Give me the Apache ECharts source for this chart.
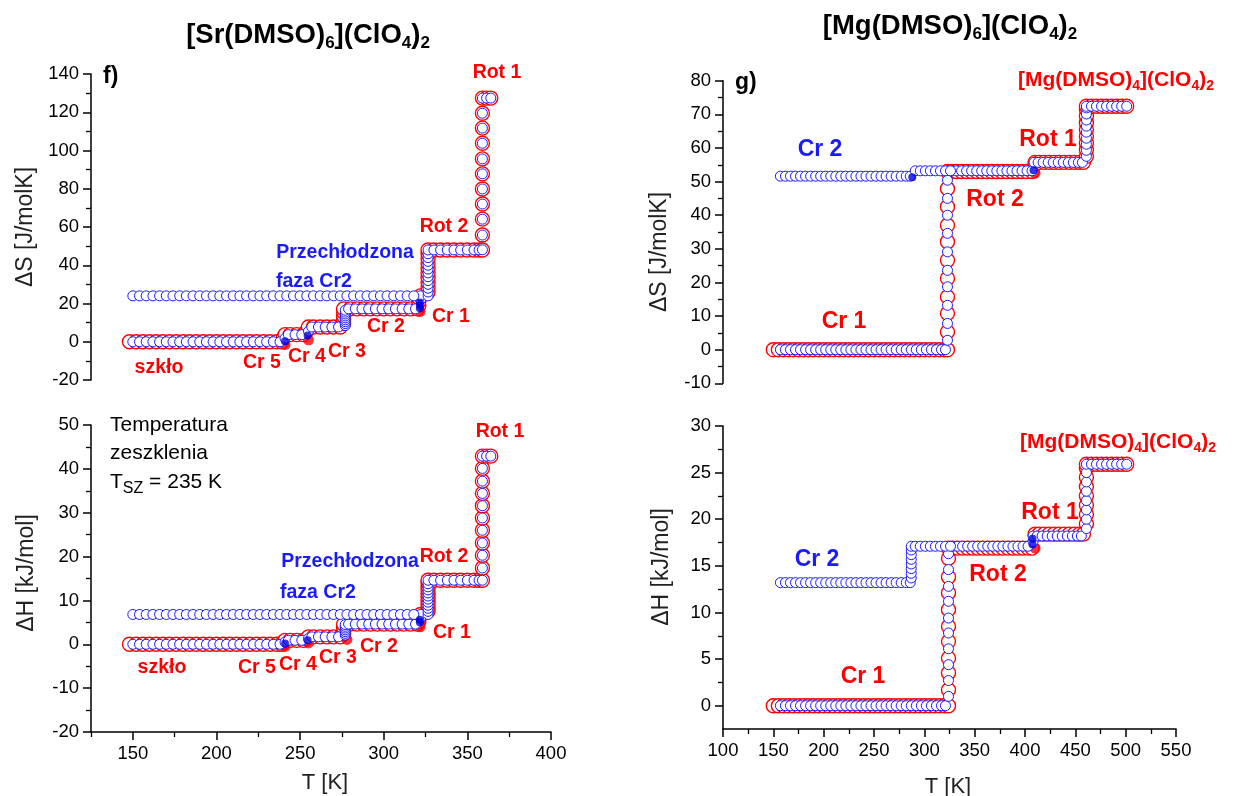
<!DOCTYPE html>
<html><head><meta charset="utf-8">
<script src="https://cdn.jsdelivr.net/npm/echarts@6/dist/echarts.min.js"></script>
<style>html,body{margin:0;padding:0;background:#fff;}#c{width:1234px;height:796px;}</style>
</head><body><div id="c"></div>
<script>
// ---------- tick values ----------
const xTicksLeft = [150,200,250,300,350,400];
const xMinorLeft = [125,175,225,275,325,375];
const yTicksBR = [0,5,10,15,20,25,30];
const yMinorBR = [2.5,7.5,12.5,17.5,22.5,27.5];

// ---------- panel f, dS [J/molK] ----------
const fS_red = [
[148,0],[152,0],[156,0],[160,0],[164,0],[168,0],[172,0],[176,0],[180,0],[184,0],[188,0],[192,0],[196,0],[200,0],[204,0],[208,0],[212,0],[216,0],[220,0],[224,0],[228,0],[232,0],[236,0],
[239,0],[240,2],[241,3.7],[244,3.7],[248,3.7],[252,3.7],
[254,5.7],[255,7.7],[258,7.7],[262,7.7],[266,7.7],[270,7.7],[274,7.7],
[276,9.5],[276,11.5],[276,13.5],[276,15.5],[276,17.2],
[280,17.2],[284,17.2],[288,17.2],[292,17.2],[296,17.2],[300,17.2],[304,17.2],[308,17.2],[312,17.2],[316,17.2],[320,17.2],
[321,19],[321,21],[321,23],[322,24],
[326.5,26],[326.5,28.5],[326.5,31],[326.5,33.5],[326.5,36],[326.5,38.5],[326.5,41],[326.5,43.5],[326.5,46],[326.5,48],
[330,48],[334,48],[338,48],[342,48],[346,48],[350,48],[354,48],[357,48],
[359,48],[359,55.8],[359,64.1],[359,72],[359,79.9],[359,87.8],[359,95.6],[359,103.8],[359,111.7],[359,119.5],[359,127.4],
[361.5,127.4],[364,127.4]];
const fS_redFilled = [[241,-1.5],[255,1.0],[321.7,15.8]];
const fS_blue = [
[150,0],[154,0],[158,0],[162,0],[166,0],[170,0],[174,0],[178,0],[182,0],[186,0],[190,0],[194,0],[198,0],[202,0],[206,0],[210,0],[214,0],[218,0],[222,0],[226,0],[230,0],[234,0],[238,0],
[241,1.8],[243,3.7],[247,3.7],[251,3.7],
[255,5.5],[257,7.7],[261,7.7],[265,7.7],[269,7.7],[273,7.7],
[277,8.5],[277,9.5],[277,10.5],[277,11.5],[277,12.5],[277,13.5],[277,14.5],[277,15.5],[277,16.5],
[279,17.2],[283,17.2],[287,17.2],[291,17.2],[295,17.2],[299,17.2],[303,17.2],[307,17.2],[311,17.2],[315,17.2],[319,17.2],
[322,22],[322,24],
[326.5,24],[326.5,26],[326.5,28],[326.5,30],[326.5,32],[326.5,34],[326.5,36],[326.5,38],[326.5,40],[326.5,42],[326.5,44],[326.5,46],[326.5,48],
[330,48],[334,48],[338,48],[342,48],[346,48],[350,48],[354,48],[357,48],
[359,48.1],[359,55.8],[359,64.1],[359,72],[359,79.9],[359,87.8],[359,95.6],[359,103.8],[359,111.7],[359,119.5],[359,127.4],
[361.5,127.4],[364,127.4]];
const fS_blueSC = [
[150,24],[154,24],[158,24],[162,24],[166,24],[170,24],[174,24],[178,24],[182,24],[186,24],[190,24],[194,24],[198,24],[202,24],[206,24],[210,24],[214,24],[218,24],[222,24],[226,24],[230,24],[234,24],[238,24],[242,24],[246,24],[250,24],[254,24],[258,24],[262,24],[266,24],[270,24],[274,24],[278,24],[282,24],[286,24],[290,24],[294,24],[298,24],[302,24],[306,24],[310,24],[314,24],[318,24]];
const fS_blueFilled = [[241,0.3],[254.5,3.3],[321.6,17.5],[321.6,19],[321.6,20.5]];

// ---------- panel f, dH [kJ/mol] ----------
const fH_red = [
[148,0],[152,0],[156,0],[160,0],[164,0],[168,0],[172,0],[176,0],[180,0],[184,0],[188,0],[192,0],[196,0],[200,0],[204,0],[208,0],[212,0],[216,0],[220,0],[224,0],[228,0],[232,0],[236,0],
[239,0],[240,0.5],[241,0.9],[244,0.9],[248,0.9],[252,0.9],
[254,1.3],[255,1.7],[258,1.7],[262,1.7],[266,1.7],[270,1.7],[274,1.7],
[276,2.4],[276,3.1],[276,3.8],[276,4.6],
[280,4.6],[284,4.6],[288,4.6],[292,4.6],[296,4.6],[300,4.6],[304,4.6],[308,4.6],[312,4.6],[316,4.6],[320,4.6],
[321,5.2],[321,5.8],[321,6.4],[322,6.8],
[326.5,7.6],[326.5,8.4],[326.5,9.2],[326.5,10],[326.5,10.8],[326.5,11.6],[326.5,12.4],[326.5,13.2],[326.5,14],[326.5,14.6],
[330,14.6],[334,14.6],[338,14.6],[342,14.6],[346,14.6],[350,14.6],[354,14.6],[357,14.6],
[359,14.6],[359,17.4],[359,20.3],[359,23.1],[359,26],[359,28.8],[359,31.6],[359,34.4],[359,37.2],[359,40.1],[359,42.9],
[361.5,42.9],[364,42.9]];
const fH_redFilled = [[241,-0.5],[255,0.3],[278,1.1],[321.7,4.0]];
const fH_blue = [
[150,0],[154,0],[158,0],[162,0],[166,0],[170,0],[174,0],[178,0],[182,0],[186,0],[190,0],[194,0],[198,0],[202,0],[206,0],[210,0],[214,0],[218,0],[222,0],[226,0],[230,0],[234,0],[238,0],
[241,0.5],[243,0.9],[247,0.9],[251,0.9],
[255,1.3],[257,1.7],[261,1.7],[265,1.7],[269,1.7],[273,1.7],
[277,2.1],[277,2.5],[277,2.9],[277,3.3],[277,3.7],[277,4.1],[277,4.5],
[279,4.6],[283,4.6],[287,4.6],[291,4.6],[295,4.6],[299,4.6],[303,4.6],[307,4.6],[311,4.6],[315,4.6],[319,4.6],
[322,6.0],[322,6.8],
[326.5,6.8],[326.5,7.5],[326.5,8.2],[326.5,8.9],[326.5,9.6],[326.5,10.3],[326.5,11],[326.5,11.7],[326.5,12.4],[326.5,13.1],[326.5,13.8],[326.5,14.6],
[330,14.6],[334,14.6],[338,14.6],[342,14.6],[346,14.6],[350,14.6],[354,14.6],[357,14.6],
[359,14.6],[359,17.4],[359,20.3],[359,23.1],[359,26],[359,28.8],[359,31.6],[359,34.4],[359,37.2],[359,40.1],[359,42.9],
[361.5,42.9],[364,42.9]];
const fH_blueSC = [
[150,6.8],[154,6.8],[158,6.8],[162,6.8],[166,6.8],[170,6.8],[174,6.8],[178,6.8],[182,6.8],[186,6.8],[190,6.8],[194,6.8],[198,6.8],[202,6.8],[206,6.8],[210,6.8],[214,6.8],[218,6.8],[222,6.8],[226,6.8],[230,6.8],[234,6.8],[238,6.8],[242,6.8],[246,6.8],[250,6.8],[254,6.8],[258,6.8],[262,6.8],[266,6.8],[270,6.8],[274,6.8],[278,6.8],[282,6.8],[286,6.8],[290,6.8],[294,6.8],[298,6.8],[302,6.8],[306,6.8],[310,6.8],[314,6.8],[318,6.8]];
const fH_blueFilled = [[241,0.2],[254.5,0.9],[321.6,5.0],[321.6,5.6]];

// ---------- panel g, dS [J/molK] ----------
const gS_red = [
[150,0],[155,0],[160,0],[165,0],[170,0],[175,0],[180,0],[185,0],[190,0],[195,0],[200,0],[205,0],[210,0],[215,0],[220,0],[225,0],[230,0],[235,0],[240,0],[245,0],[250,0],[255,0],[260,0],[265,0],[270,0],[275,0],[280,0],[285,0],[290,0],[295,0],[300,0],[305,0],[310,0],[315,0],[320,0],
[323,0],[323,5.3],[323,10.8],[323,15.7],[323,21.2],[323,26.6],[323,32.1],[323,37],[323,42.5],[323,47.9],[323,53],
[327,53],[332,53],[337,53],[342,53],[347,53],[352,53],[357,53],[362,53],[367,53],[372,53],[377,53],[382,53],[387,53],[392,53],[397,53],[402,53],[407,53],
[410,55.7],[414,55.7],[419,55.7],[424,55.7],[429,55.7],[434,55.7],[439,55.7],[444,55.7],[449,55.7],[454,55.7],[458,55.7],
[461,57.5],[461,59.5],[461,61.5],[461,63.5],[461,65.5],[461,67.5],[461,69.5],[461,71.5],[461,72.4],
[466,72.4],[471,72.4],[476,72.4],[481,72.4],[486,72.4],[491,72.4],[496,72.4],[501,72.4]];
const gS_redFilled = [[410,52.5]];
const gS_blue = [
[157,0],[162,0],[167,0],[172,0],[177,0],[182,0],[187,0],[192,0],[197,0],[202,0],[207,0],[212,0],[217,0],[222,0],[227,0],[232,0],[237,0],[242,0],[247,0],[252,0],[257,0],[262,0],[267,0],[272,0],[277,0],[282,0],[287,0],[292,0],[297,0],[302,0],[307,0],[312,0],[317,0],[321,0],
[323,2.8],[323,7.8],[323,13.2],[323,18.7],[323,23.6],[323,29.1],[323,34.6],[323,40],[323,45],[323,50.4],
[327,53.2],[332,53.2],[337,53.2],[342,53.2],[347,53.2],[352,53.2],[357,53.2],[362,53.2],[367,53.2],[372,53.2],[377,53.2],[382,53.2],[387,53.2],[392,53.2],[397,53.2],[402,53.2],[407,53.2],
[409,55.7],[413,55.7],[418,55.7],[423,55.7],[428,55.7],[433,55.7],[438,55.7],[443,55.7],[448,55.7],[453,55.7],[457,55.7],
[461,57.5],[461,59.3],[461,61.1],[461,62.9],[461,64.7],[461,66.5],[461,68.3],[461,70.1],[461,71.9],
[461,72.4],[466,72.4],[471,72.4],[476,72.4],[481,72.4],[486,72.4],[491,72.4],[496,72.4],[501,72.4]];
const gS_blueCr2 = [
[157,51.6],[162,51.6],[167,51.6],[172,51.6],[177,51.6],[182,51.6],[187,51.6],[192,51.6],[197,51.6],[202,51.6],[207,51.6],[212,51.6],[217,51.6],[222,51.6],[227,51.6],[232,51.6],[237,51.6],[242,51.6],[247,51.6],[252,51.6],[257,51.6],[262,51.6],[267,51.6],[272,51.6],[277,51.6],[282,51.6],[286,51.6],
[291,53.2],[296,53.2],[301,53.2],[306,53.2],[311,53.2],[316,53.2],[321,53.2],[326,53.2]];
const gS_blueFilled = [[288,51.3],[408.5,53.4]];

// ---------- panel g, dH [kJ/mol] ----------
const gH_red = [
[150,0],[155,0],[160,0],[165,0],[170,0],[175,0],[180,0],[185,0],[190,0],[195,0],[200,0],[205,0],[210,0],[215,0],[220,0],[225,0],[230,0],[235,0],[240,0],[245,0],[250,0],[255,0],[260,0],[265,0],[270,0],[275,0],[280,0],[285,0],[290,0],[295,0],[300,0],[305,0],[310,0],[315,0],[320,0],
[324,0],[324,1.7],[324,3.5],[324,5.1],[324,6.9],[324,8.5],[324,10.3],[324,12.1],[324,13.8],[324,15.8],[324,16.9],
[328,16.9],[333,16.9],[338,16.9],[343,16.9],[348,16.9],[353,16.9],[358,16.9],[363,16.9],[368,16.9],[373,16.9],[378,16.9],[383,16.9],[388,16.9],[393,16.9],[398,16.9],[403,16.9],[407,16.9],
[410,18.4],[414,18.4],[419,18.4],[424,18.4],[429,18.4],[434,18.4],[439,18.4],[444,18.4],[449,18.4],[454,18.4],[458,18.4],
[461,19.5],[461,20.5],[461,21.5],[461,22.5],[461,23.5],[461,24.5],[461,25.5],[461,25.9],
[466,25.9],[471,25.9],[476,25.9],[481,25.9],[486,25.9],[491,25.9],[496,25.9],[501,25.9]];
const gH_redFilled = [[410,16.9]];
const gH_blue = [
[157,0],[162,0],[167,0],[172,0],[177,0],[182,0],[187,0],[192,0],[197,0],[202,0],[207,0],[212,0],[217,0],[222,0],[227,0],[232,0],[237,0],[242,0],[247,0],[252,0],[257,0],[262,0],[267,0],[272,0],[277,0],[282,0],[287,0],[292,0],[297,0],[302,0],[307,0],[312,0],[317,0],[321,0],
[324,1.0],[324,2.7],[324,4.4],[324,6.1],[324,7.8],[324,9.4],[324,11.2],[324,12.8],[324,14.6],[324,16.3],
[328,17.1],[333,17.1],[338,17.1],[343,17.1],[348,17.1],[353,17.1],[358,17.1],[363,17.1],[368,17.1],[373,17.1],[378,17.1],[383,17.1],[388,17.1],[393,17.1],[398,17.1],[403,17.1],
[408,17.6],[408,18.2],[412,18.2],[417,18.2],[422,18.2],[427,18.2],[432,18.2],[437,18.2],[442,18.2],[447,18.2],[452,18.2],[456,18.2],
[461,19],[461,20],[461,21],[461,22],[461,23],[461,24],[461,25],
[461,25.9],[466,25.9],[471,25.9],[476,25.9],[481,25.9],[486,25.9],[491,25.9],[496,25.9],[501,25.9]];
const gH_blueCr2 = [
[157,13.2],[162,13.2],[167,13.2],[172,13.2],[177,13.2],[182,13.2],[187,13.2],[192,13.2],[197,13.2],[202,13.2],[207,13.2],[212,13.2],[217,13.2],[222,13.2],[227,13.2],[232,13.2],[237,13.2],[242,13.2],[247,13.2],[252,13.2],[257,13.2],[262,13.2],[267,13.2],[272,13.2],[277,13.2],[282,13.2],[286,13.2],
[287,13.7],[287,14.2],[287,14.7],[287,15.2],[287,15.7],[287,16.2],[287,16.7],[287,17.1],
[291,17.1],[296,17.1],[301,17.1],[306,17.1],[311,17.1],[316,17.1],[321,17.1],[326,17.1]];
const gH_blueFilled = [[407.5,17.3],[407.5,17.9]];

// ---------- styling ----------
const FONT = 'Liberation Sans';
const RED = '#ff0000', BLUE = '#1a1aff';

function openSeries(data, idx, color, size, bw) {
  return {type:'scatter', xAxisIndex:idx, yAxisIndex:idx, data:data, symbol:'circle', symbolSize:size,
    itemStyle:{color:'#ffffff', borderColor:color, borderWidth:bw, opacity:1}, silent:true, animation:false, z:2};
}
function filledSeries(data, idx, color, size) {
  return {type:'scatter', xAxisIndex:idx, yAxisIndex:idx, data:data, symbol:'circle', symbolSize:size,
    itemStyle:{color:color, borderWidth:0}, silent:true, animation:false, z:2};
}
function panel(idx, red, redF, blue, blue2, blueF) {
  return [openSeries(red, idx, RED, 14, 1.4), filledSeries(redF, idx, RED, 11),
          openSeries(blue, idx, BLUE, 10, 1), openSeries(blue2, idx, BLUE, 10, 1),
          filledSeries(blueF, idx, '#0000e0', 8)];
}

const axLine = {show:true, onZero:false, lineStyle:{color:'#000', width:1.5}};
const axLabel = {show:true, color:'#000', fontSize:18.5, fontFamily:FONT, margin:12};
function valAxis(extra) {
  return Object.assign({type:'value', axisLine:axLine,
    axisTick:{show:true, inside:false, length:8, lineStyle:{color:'#000', width:1.5}},
    minorTick:{show:true, splitNumber:2, length:5, lineStyle:{color:'#000', width:1.3}},
    axisLabel:axLabel, splitLine:{show:false}, minorSplitLine:{show:false}}, extra);
}

const xAxes = [
  {type:'value', gridIndex:0, min:125, max:400, show:false},
  valAxis({gridIndex:1, min:125, max:400, position:'bottom',
    axisTick:{show:true, length:8, customValues:xTicksLeft, lineStyle:{color:'#000', width:1.5}},
    axisLabel:Object.assign({}, axLabel, {customValues:xTicksLeft}), minorTick:{show:false}}),
  {type:'value', gridIndex:2, min:100, max:550, show:false},
  valAxis({gridIndex:3, min:100, max:550, interval:50, position:'bottom'}),
  {type:'value', gridIndex:1, min:125, max:400, position:'bottom', axisLine:{show:false, onZero:false},
    axisLabel:{show:false}, splitLine:{show:false},
    axisTick:{show:true, length:5, customValues:xMinorLeft, lineStyle:{color:'#000', width:1.3}}}
];
const yAxes = [
  valAxis({gridIndex:0, min:-20, max:140, interval:20, position:'left'}),
  valAxis({gridIndex:1, min:-20, max:50, interval:10, position:'left'}),
  valAxis({gridIndex:2, min:-10, max:80, interval:10, position:'left'}),
  valAxis({gridIndex:3, min:-2.5, max:30, position:'left',
    axisTick:{show:true, length:8, customValues:yTicksBR, lineStyle:{color:'#000', width:1.5}},
    axisLabel:Object.assign({}, axLabel, {customValues:yTicksBR}), minorTick:{show:false}}),
  {type:'value', gridIndex:3, min:-2.5, max:30, position:'left', axisLine:{show:false, onZero:false},
    axisLabel:{show:false}, splitLine:{show:false},
    axisTick:{show:true, length:5, customValues:yMinorBR, lineStyle:{color:'#000', width:1.3}}}
];

function T(x, y, text, color, size, bold, align, rot) {
  const o = {type:'text', x:x, y:y, z:10, silent:true,
    style:{text:text, fill:color, fontSize:size, fontWeight:bold?'bold':'normal', fontFamily:FONT,
      align:align||'center', textAlign:align||'center', verticalAlign:'middle', textVerticalAlign:'middle'}};
  if (rot) o.rotation = rot;
  return o;
}
function R(x, y, text, color, size, subSize, bold, align, lh, pad) {
  const w = bold ? 'bold' : 'normal';
  return {type:'text', x:x, y:y, z:10, silent:true,
    style:{text:text, fill:color, fontFamily:FONT, fontSize:size, fontWeight:w,
      align:align, textAlign:align, verticalAlign:'middle', textVerticalAlign:'middle',
      rich:{
        m:{fontSize:size, fontWeight:w, fontFamily:FONT, fill:color, color:color, lineHeight:lh},
        s:{fontSize:subSize, fontWeight:w, fontFamily:FONT, fill:color, color:color, lineHeight:lh, padding:[pad,0,0,0]}
      }}};
}

const graphics = [
  R(308, 35, '{m|[Sr(DMSO)}{s|6}{m|](ClO}{s|4}{m|)}{s|2}', '#000', 27.5, 17, true, 'center', 34, 16),
  R(950, 26, '{m|[Mg(DMSO)}{s|6}{m|](ClO}{s|4}{m|)}{s|2}', '#000', 27.5, 17, true, 'center', 34, 16),
  // panel f top
  T(103, 77, 'f)', '#000', 23, true, 'left'),
  T(497, 73, 'Rot 1', RED, 19.5, true),
  T(444, 227, 'Rot 2', RED, 19.5, true),
  T(345, 253, 'Przechłodzona', BLUE, 19.5, true),
  T(276, 282, 'faza Cr2', BLUE, 19.5, true, 'left'),
  T(451, 317, 'Cr 1', RED, 19.5, true),
  T(386, 327, 'Cr 2', RED, 19.5, true),
  T(347, 352, 'Cr 3', RED, 19.5, true),
  T(307, 357, 'Cr 4', RED, 19.5, true),
  T(262, 363, 'Cr 5', RED, 19.5, true),
  T(159, 368, 'szkło', RED, 19.5, true),
  // panel f bottom
  T(110, 425, 'Temperatura', '#000', 21, false, 'left'),
  T(110, 453, 'zeszklenia', '#000', 21, false, 'left'),
  R(110, 482, '{m|T}{s|SZ}{m| = 235 K}', '#000', 21, 16, false, 'left', 28, 13),
  T(500, 432, 'Rot 1', RED, 19.5, true),
  T(444, 557, 'Rot 2', RED, 19.5, true),
  T(350, 562, 'Przechłodzona', BLUE, 19.5, true),
  T(280, 593, 'faza Cr2', BLUE, 19.5, true, 'left'),
  T(452, 633, 'Cr 1', RED, 19.5, true),
  T(379, 647, 'Cr 2', RED, 19.5, true),
  T(338, 658, 'Cr 3', RED, 19.5, true),
  T(298, 665, 'Cr 4', RED, 19.5, true),
  T(257, 668, 'Cr 5', RED, 19.5, true),
  T(162, 668, 'szkło', RED, 19.5, true),
  // panel g top
  T(735, 83, 'g)', '#000', 23, true, 'left'),
  T(820, 150, 'Cr 2', BLUE, 23, true),
  T(844, 322, 'Cr 1', RED, 23, true),
  T(995, 200, 'Rot 2', RED, 23, true),
  T(1048, 140, 'Rot 1', RED, 23, true),
  R(1018, 80, '{m|[Mg(DMSO)}{s|4}{m|](ClO}{s|4}{m|)}{s|2}', RED, 21, 14, true, 'left', 28, 13),
  // panel g bottom
  T(817, 560, 'Cr 2', BLUE, 23, true),
  T(863, 677, 'Cr 1', RED, 23, true),
  T(998, 575, 'Rot 2', RED, 23, true),
  T(1050, 513, 'Rot 1', RED, 23, true),
  R(1020, 442, '{m|[Mg(DMSO)}{s|4}{m|](ClO}{s|4}{m|)}{s|2}', RED, 21, 14, true, 'left', 28, 13),
  // axis names
  T(26, 227, 'ΔS [J/molK]', '#222', 23, false, 'center', Math.PI/2),
  T(27, 573, 'ΔH [kJ/mol]', '#222', 23, false, 'center', Math.PI/2),
  T(660, 252, 'ΔS [J/molK]', '#222', 23, false, 'center', Math.PI/2),
  T(662, 567, 'ΔH [kJ/mol]', '#222', 23, false, 'center', Math.PI/2),
  T(325, 783, 'T [K]', '#222', 22, false),
  T(948, 787, 'T [K]', '#222', 22, false)
];

const chart = echarts.init(document.getElementById('c'), null, {renderer:'canvas'});
chart.setOption({
  animation:false,
  backgroundColor:'#ffffff',
  grid:[
    {left:91, top:74, width:460, height:306, outerBoundsMode:'none', containLabel:false},
    {left:91, top:425, width:460, height:307, outerBoundsMode:'none', containLabel:false},
    {left:723, top:80.7, width:453, height:302.6, outerBoundsMode:'none', containLabel:false},
    {left:723, top:426, width:453, height:303, outerBoundsMode:'none', containLabel:false}
  ],
  xAxis:xAxes,
  yAxis:yAxes,
  series:[].concat(
    panel(0, fS_red, fS_redFilled, fS_blue, fS_blueSC, fS_blueFilled),
    panel(1, fH_red, fH_redFilled, fH_blue, fH_blueSC, fH_blueFilled),
    panel(2, gS_red, gS_redFilled, gS_blue, gS_blueCr2, gS_blueFilled),
    panel(3, gH_red, gH_redFilled, gH_blue, gH_blueCr2, gH_blueFilled)
  ),
  graphic:graphics
});
</script></body></html>
